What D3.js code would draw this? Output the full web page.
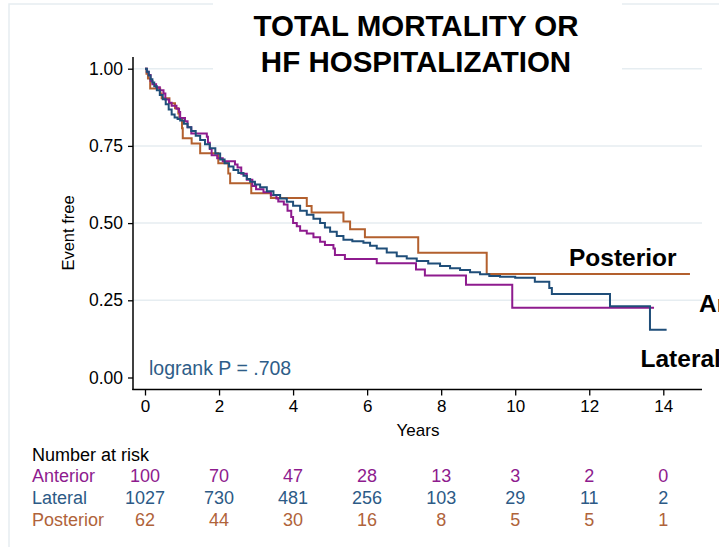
<!DOCTYPE html>
<html>
<head>
<meta charset="utf-8">
<script src="https://cdn.jsdelivr.net/npm/d3@7"></script>
<style>
  body { margin: 0; background: #fff; }
  svg { display: block; font-family: "Liberation Sans", Arial, sans-serif; }
</style>
</head>
<body>
<div id="chart"></div>
<script>
// Chart data
var xTicks = [0, 2, 4, 6, 8, 10, 12, 14];
var yTicks = [0, 0.25, 0.5, 0.75, 1];
var groups = ["Anterior", "Lateral", "Posterior"];

// Kaplan-Meier curves: [years, event free]
var anterior = [
  [0, 1.0], [0.05, 0.99], [0.1, 0.98], [0.15, 0.96], [0.2, 0.95], [0.3, 0.94],
  [0.4, 0.93], [0.5, 0.92], [0.55, 0.90], [0.65, 0.89], [0.72, 0.88], [0.85, 0.87],
  [0.92, 0.86], [0.95, 0.84], [1.08, 0.83], [1.15, 0.81], [1.25, 0.79], [1.67, 0.78],
  [1.7, 0.76], [1.75, 0.74], [1.8, 0.72], [1.95, 0.71], [2.1, 0.70], [2.43, 0.69],
  [2.5, 0.68], [2.6, 0.66], [2.75, 0.64], [2.9, 0.62], [3.0, 0.61], [3.2, 0.60],
  [3.4, 0.59], [3.55, 0.58], [3.6, 0.57], [3.75, 0.56], [3.85, 0.54], [3.95, 0.52],
  [4.0, 0.50], [4.1, 0.49], [4.19, 0.475], [4.37, 0.466], [4.55, 0.454], [4.73, 0.44],
  [4.86, 0.429], [5.09, 0.418], [5.13, 0.397], [5.4, 0.384], [6.26, 0.37], [7.32, 0.35],
  [7.56, 0.33], [8.67, 0.30], [9.92, 0.226], [13.75, 0.226]
];
var lateral = [
  [0, 1.0], [0.05, 0.99], [0.1, 0.978], [0.15, 0.966], [0.2, 0.955], [0.25, 0.943],
  [0.32, 0.93], [0.4, 0.915], [0.48, 0.901], [0.56, 0.885], [0.64, 0.868], [0.72, 0.852],
  [0.8, 0.842], [0.88, 0.837], [0.95, 0.832], [1.05, 0.822], [1.15, 0.81], [1.25, 0.798],
  [1.37, 0.783], [1.49, 0.769], [1.62, 0.755], [1.75, 0.742], [1.9, 0.725], [2.03, 0.706],
  [2.15, 0.694], [2.27, 0.683], [2.39, 0.672], [2.52, 0.662], [2.66, 0.653], [2.75, 0.643],
  [2.84, 0.634], [2.97, 0.625], [3.11, 0.616], [3.29, 0.603], [3.47, 0.591], [3.65, 0.58],
  [3.83, 0.569], [4.0, 0.556], [4.19, 0.54], [4.37, 0.527], [4.55, 0.514], [4.73, 0.5],
  [4.86, 0.486], [5.0, 0.472], [5.18, 0.458], [5.36, 0.446], [5.6, 0.441], [5.9, 0.436],
  [6.08, 0.427], [6.26, 0.418], [6.53, 0.405], [6.8, 0.393], [7.07, 0.385], [7.34, 0.377],
  [7.65, 0.369], [7.97, 0.361], [8.24, 0.354], [8.51, 0.348], [8.78, 0.341], [9.05, 0.334],
  [9.3, 0.329], [9.59, 0.326], [10.0, 0.323], [10.53, 0.31], [10.92, 0.29], [10.99, 0.27],
  [12.56, 0.231], [13.64, 0.155], [14.09, 0.155]
];
var posterior = [
  [0, 1.0], [0.04, 0.984], [0.08, 0.968], [0.14, 0.936], [0.41, 0.92], [0.45, 0.904],
  [0.66, 0.888], [0.81, 0.872], [0.9, 0.855], [0.93, 0.839], [1.0, 0.807], [1.02, 0.775],
  [1.26, 0.758], [1.49, 0.726], [1.98, 0.694], [2.25, 0.661], [2.3, 0.629], [2.87, 0.597],
  [3.4, 0.581], [4.37, 0.555], [4.5, 0.534], [5.36, 0.505], [5.54, 0.48], [5.94, 0.454],
  [7.38, 0.404], [9.23, 0.335], [14.72, 0.335]
];

// Number at risk
var riskAnterior = [100, 70, 47, 28, 13, 3, 2, 0];
var riskLateral = [1027, 730, 481, 256, 103, 29, 11, 2];
var riskPosterior = [62, 44, 30, 16, 8, 5, 5, 1];

var colors = { Anterior: "#8e1b8e", Lateral: "#1f4e79", Posterior: "#b3602e" };
var textColors = { Anterior: "#8e1b8e", Lateral: "#2c5a86", Posterior: "#b0633a" };

var svgWidth = 719, svgHeight = 547;

var svg = d3.select("#chart")
  .append("svg")
  .attr("width", svgWidth)
  .attr("height", svgHeight);

var x = d3.scaleLinear().domain([0, 14]).range([145, 663.3]);
var y = d3.scaleLinear().domain([0, 1]).range([377.5, 68.7]);

// outer faint frame
svg.append("rect")
  .attr("x", 9).attr("y", 4)
  .attr("width", 760).attr("height", 600)
  .attr("fill", "none")
  .attr("stroke", "#e6edf1")
  .attr("stroke-width", 1.5);

// gridlines
svg.append("g")
  .selectAll("line")
  .data(yTicks.filter(d => d > 0))
  .enter()
  .append("line")
  .attr("x1", 133).attr("x2", 702)
  .attr("y1", d => y(d)).attr("y2", d => y(d))
  .attr("stroke", "#e6edf1")
  .attr("stroke-width", 1.5);

// white box behind the title
svg.append("rect")
  .attr("x", 213).attr("y", 0)
  .attr("width", 409).attr("height", 80)
  .attr("fill", "#fff");

svg.append("text")
  .attr("x", 416)
  .attr("text-anchor", "middle")
  .style("font-size", "29.5px")
  .style("font-weight", "bold")
  .selectAll("tspan")
  .data(["TOTAL MORTALITY OR", "HF HOSPITALIZATION"])
  .enter()
  .append("tspan")
  .attr("x", 416)
  .attr("y", (d, i) => 36 + i * 35.7)
  .text(d => d);

// axes
var leftAxis = d3.axisLeft(y).tickValues(yTicks).tickFormat(d3.format(".2f")).tickSize(5).tickPadding(5);
var bottomAxis = d3.axisBottom(x).tickValues(xTicks).tickSize(6).tickPadding(4);

var yAxisG = svg.append("g")
  .attr("transform", "translate(133,0)")
  .call(leftAxis);
yAxisG.select(".domain").remove();
yAxisG.selectAll("text").style("font-size", "17.5px").attr("fill", "#000").style("font-family", "Liberation Sans, Arial, sans-serif");
yAxisG.selectAll("line").attr("stroke", "#000").attr("stroke-width", 1.3);

var xAxisG = svg.append("g")
  .attr("transform", "translate(0,389.5)")
  .call(bottomAxis);
xAxisG.select(".domain").remove();
xAxisG.selectAll("text").style("font-size", "17px").attr("fill", "#000").style("font-family", "Liberation Sans, Arial, sans-serif");
xAxisG.selectAll("line").attr("stroke", "#000").attr("stroke-width", 1.3);

svg.append("line")
  .attr("x1", 133).attr("x2", 133).attr("y1", 57).attr("y2", 390)
  .attr("stroke", "#000").attr("stroke-width", 1.5);
svg.append("line")
  .attr("x1", 132.3).attr("x2", 702).attr("y1", 389.5).attr("y2", 389.5)
  .attr("stroke", "#000").attr("stroke-width", 1.5);

// axis titles
svg.append("text")
  .attr("transform", "translate(74,233) rotate(-90)")
  .attr("text-anchor", "middle")
  .style("font-size", "16.5px")
  .text("Event free");

svg.append("text")
  .attr("x", 418).attr("y", 436)
  .attr("text-anchor", "middle")
  .style("font-size", "17px")
  .text("Years");

// survival curves
var line = d3.line()
  .x(d => x(d[0]))
  .y(d => y(d[1]))
  .curve(d3.curveStepAfter);

var curves = { Anterior: anterior, Lateral: lateral, Posterior: posterior };
["Posterior", "Anterior", "Lateral"].forEach(function(g) {
  svg.append("path")
    .datum(curves[g])
    .attr("d", line)
    .attr("fill", "none")
    .attr("stroke", colors[g])
    .attr("stroke-width", 2);
});

// curve labels (the reference cuts Anterior and Lateral at the right edge)
var labels = [
  { name: "Posterior", x: 569, y: 266 },
  { name: "Anterior", x: 699, y: 312 },
  { name: "Lateral", x: 640.5, y: 366.5 }
];
svg.append("g")
  .selectAll("text")
  .data(labels)
  .enter()
  .append("text")
  .attr("x", d => d.x)
  .attr("y", d => d.y)
  .style("font-size", "24.5px")
  .style("font-weight", "bold")
  .text(d => d.name);

svg.append("text")
  .attr("x", 149).attr("y", 375)
  .style("font-size", "19.5px")
  .attr("fill", "#2e5d88")
  .text("logrank P = .708");

// number at risk table
svg.append("text")
  .attr("x", 32).attr("y", 461)
  .style("font-size", "18px")
  .text("Number at risk");

var risk = { Anterior: riskAnterior, Lateral: riskLateral, Posterior: riskPosterior };
groups.forEach(function(g, i) {
  var rowY = 482 + i * 22;
  var row = svg.append("g").attr("fill", textColors[g]).style("font-size", "18px");
  row.append("text").attr("x", 32).attr("y", rowY).text(g);
  row.selectAll("text.n")
    .data(risk[g])
    .enter()
    .append("text")
    .attr("class", "n")
    .attr("x", (d, j) => x(xTicks[j]))
    .attr("y", rowY)
    .attr("text-anchor", "middle")
    .text(d => d);
});
</script>
</body>
</html>
